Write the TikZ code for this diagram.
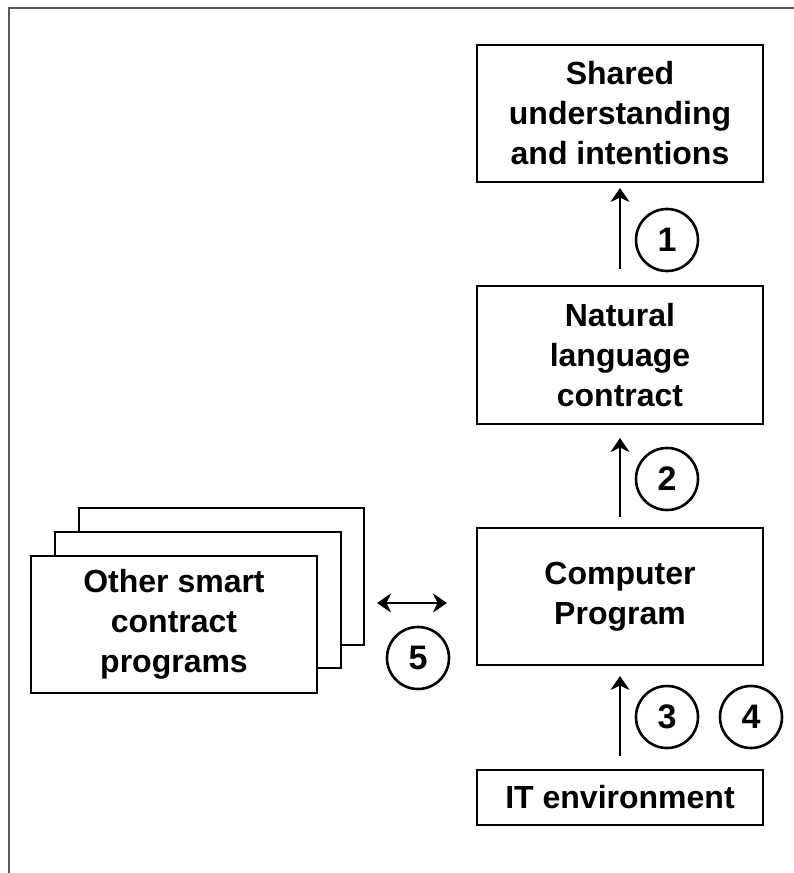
\documentclass[tikz,border=0pt]{standalone}
\usepackage{fontspec}
\setmainfont{Liberation Sans}
\usetikzlibrary{arrows.meta}
\begin{document}
\begin{tikzpicture}[x=1pt,y=-1pt,
  box/.style={draw=black, line width=2pt, fill=white, inner sep=0pt, align=center,
    font=\fontsize{32}{40}\selectfont\bfseries},
  numcirc/.style={circle, draw=black, line width=2.6pt, minimum size=62pt, inner sep=0pt,
    font=\fontsize{34}{36}\selectfont\bfseries},
  tip/.tip={Stealth[length=14pt,width=19pt,inset=4.5pt]},
  arr/.style={line width=2.5pt, -tip},
  darr/.style={line width=2.5pt, tip-tip}
]
\useasboundingbox (0,0) rectangle (794,873);
\begin{scope}
\clip (0,0) rectangle (794,873);
\draw[line width=2pt, black!65] (9,8) rectangle (820,900);
\end{scope}

% right column
\node[box, minimum width=286pt, minimum height=137pt] (shared) at (620,113.5) {Shared\\understanding\\and intentions};
\node[box, minimum width=286pt, minimum height=138pt] (natural) at (620,355) {Natural\\language\\contract};
\node[box, minimum width=286pt, minimum height=137pt] (computer) at (620,596.5) {Computer\\Program};
\node[box, minimum width=286pt, minimum height=55pt] (it) at (620,797.5) {IT environment};

% stacked boxes on the left
\node[box, minimum width=285pt, minimum height=137pt] (other3) at (221.5,576.5) {};
\node[box, minimum width=286pt, minimum height=136pt] (other2) at (198,600) {};
\node[box, minimum width=286pt, minimum height=137pt] (other) at (174,624.5) {Other smart\\contract\\programs};

% arrows
\draw[arr, shorten <=16pt, shorten >=5pt] (natural) -- (shared);
\draw[arr, shorten <=10pt, shorten >=13pt] (computer) -- (natural);
\draw[arr, shorten <=13pt, shorten >=10pt] (it) -- (computer);

\coordinate (dl) at (377,603);
\coordinate (dr) at (447,603);
\draw[darr] (dl) -- (dr);

% numbered circles
\node[numcirc] (c1) at (667,240) {1};
\node[numcirc] (c2) at (667,479) {2};
\node[numcirc] (c3) at (667,717) {3};
\node[numcirc] (c4) at (751,717) {4};
\node[numcirc] (c5) at (418,658) {5};
\end{tikzpicture}
\end{document}
